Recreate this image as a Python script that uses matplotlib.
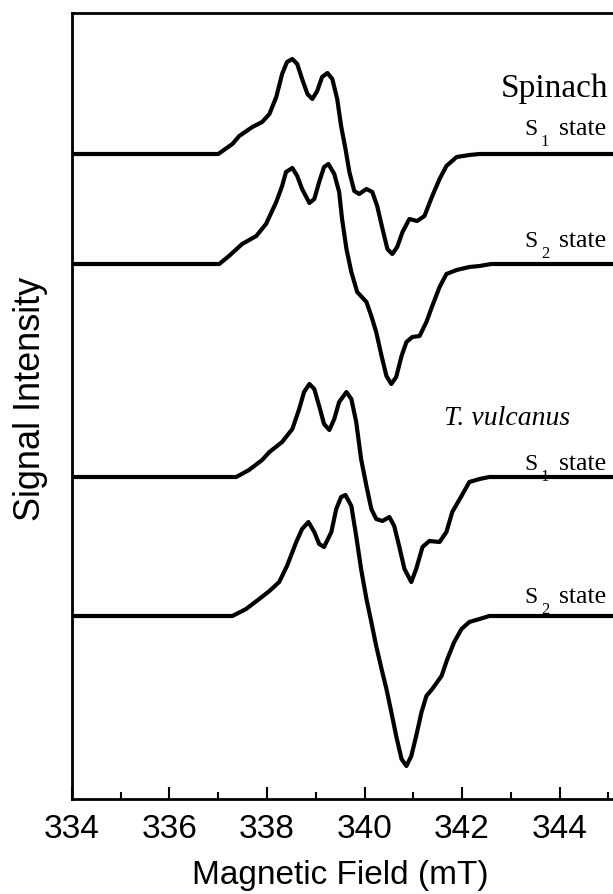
import numpy as np
import matplotlib.pyplot as plt

serif = 'Liberation Serif'

# field values (mT) and signal (arb. units)
spinach_s1_field = [334.0, 337.0, 337.29, 337.43, 337.7, 337.9, 338.05, 338.19, 338.31, 338.41, 338.52,
                    338.62, 338.72, 338.83, 338.93, 339.03, 339.13, 339.24, 339.34, 339.44, 339.52,
                    339.61, 339.69, 339.79, 339.89, 340.04, 340.16, 340.26, 340.37, 340.47, 340.57,
                    340.67, 340.78, 340.92, 341.08, 341.23, 341.39, 341.54, 341.68, 341.89, 342.15,
                    342.36, 346.0]
spinach_s1_signal = [0, 0, 10, 18, 27, 32, 40, 57, 80, 92, 95,
                     90, 75, 60, 55, 63, 77, 81, 75, 55, 28,
                     5, -18, -37, -40, -35, -38, -52, -75, -95, -100,
                     -93, -78, -65, -67, -62, -42, -25, -12, -3, -1,
                     0, 0]

spinach_s2_field = [334.0, 337.02, 337.22, 337.49, 337.78, 337.98, 338.19, 338.31, 338.39, 338.52, 338.62,
                    338.72, 338.87, 338.97, 339.07, 339.17, 339.26, 339.38, 339.48, 339.54, 339.63,
                    339.73, 339.85, 340.04, 340.14, 340.24, 340.35, 340.45, 340.55, 340.65, 340.76,
                    340.86, 340.98, 341.13, 341.27, 341.39, 341.54, 341.68, 341.89, 342.15, 342.36,
                    342.6, 346.0]
spinach_s2_signal = [0, 0, 8, 20, 28, 40, 62, 78, 92, 96, 88,
                     75, 61, 65, 82, 97, 100, 90, 72, 45, 15,
                     -8, -28, -38, -52, -68, -92, -112, -120, -113, -92,
                     -78, -73, -72, -58, -42, -23, -10, -6, -3, -2,
                     0, 0]

vulcanus_s1_field = [334.0, 337.37, 337.63, 337.9, 338.05, 338.31, 338.52, 338.66, 338.76, 338.87, 338.97,
                     339.07, 339.17, 339.28, 339.38, 339.48, 339.63, 339.73, 339.83, 339.93, 340.04,
                     340.14, 340.24, 340.37, 340.51, 340.61, 340.71, 340.82, 340.96, 341.06, 341.19,
                     341.33, 341.54, 341.68, 341.8, 341.99, 342.15, 342.36, 342.56, 346.0]
vulcanus_s1_signal = [0, 0, 7, 17, 25, 35, 48, 68, 85, 93, 88,
                      71, 53, 47, 58, 75, 85, 78, 55, 18, -9,
                      -32, -42, -44, -40, -49, -69, -92, -105, -92, -70,
                      -64, -65, -55, -35, -19, -5, -2, 0, 0]

vulcanus_s2_field = [334.0, 337.29, 337.57, 337.84, 338.05, 338.25, 338.41, 338.6, 338.72, 338.85, 338.97,
                     339.07, 339.17, 339.32, 339.42, 339.52, 339.61, 339.73, 339.83, 339.93, 340.04,
                     340.14, 340.24, 340.35, 340.45, 340.55, 340.65, 340.76, 340.86, 340.96, 341.06,
                     341.17, 341.27, 341.39, 341.58, 341.7, 341.84, 341.99, 342.15, 342.36, 342.56,
                     346.0]
vulcanus_s2_signal = [0, 0, 7, 17, 25, 34, 50, 74, 87, 94, 84,
                      72, 69, 84, 107, 119, 121, 110, 80, 47, 17,
                      -6, -30, -53, -73, -96, -120, -143, -150, -140, -120,
                      -96, -80, -73, -60, -43, -26, -13, -6, -3, 0,
                      0]

offsets = [645, 535, 322, 183]
state_subs = ['1', '2', '1', '2']
major_ticks = [334, 336, 338, 340, 342, 344]
minor_ticks = [335, 337, 339, 341, 343, 345]

fig = plt.figure(figsize=(6.13, 8.95), dpi=100)
# the axes run on past the right edge of the picture, as in the reference
ax = fig.add_axes([72/613, 95/895, 585/613, 786/895])

traces = [(spinach_s1_field, spinach_s1_signal), (spinach_s2_field, spinach_s2_signal),
          (vulcanus_s1_field, vulcanus_s1_signal), (vulcanus_s2_field, vulcanus_s2_signal)]
for (f, s), off in zip(traces, offsets):
    ax.plot(f, np.array(s) + off, color='black', lw=3,
            solid_joinstyle='round', solid_capstyle='round')

ax.set_xlim(334, 346)
ax.set_ylim(0, 786)
ax.set_yticks([])
ax.set_xticks(major_ticks)
ax.set_xticks(minor_ticks, minor=True)
ax.tick_params(axis='x', which='major', direction='in', length=9, width=1.5,
               labelsize=24, labelfontfamily='Liberation Sans', pad=10)
ax.tick_params(axis='x', which='minor', direction='in', length=5, width=1.5)
for sp in ax.spines.values():
    sp.set_linewidth(2)

ax.set_xlabel('Magnetic Field (mT)', fontsize=24, family='Liberation Sans')
ax.xaxis.set_label_coords((340 - 72) / 585, (800 - 860) / 786)
ax.set_ylabel('Signal Intensity', fontsize=26, family='Liberation Sans')
ax.yaxis.set_label_coords((48 - 72) / 585, (800 - 399) / 786)

fig.text(608/613, 1 - 97/895, 'Spinach', ha='right', va='baseline', fontsize=24, family=serif)
fig.text(570/613, 1 - 425/895, 'T. vulcanus', ha='right', va='baseline', fontsize=20,
         family=serif, style='italic')

# "S_n state" labels: S, lowered subscript, then "state"
label_baselines = [135, 247, 470, 603]
for sub, yb in zip(state_subs, label_baselines):
    fig.text(606/613, 1 - yb/895, 'state', ha='right', va='baseline', fontsize=18.5, family=serif)
    fig.text(545/613, 1 - (yb + 11)/895, sub, ha='center', va='baseline', fontsize=12, family=serif)
    fig.text(538/613, 1 - yb/895, 'S', ha='right', va='baseline', fontsize=17, family=serif)

fig.savefig('out.png', dpi=100)
